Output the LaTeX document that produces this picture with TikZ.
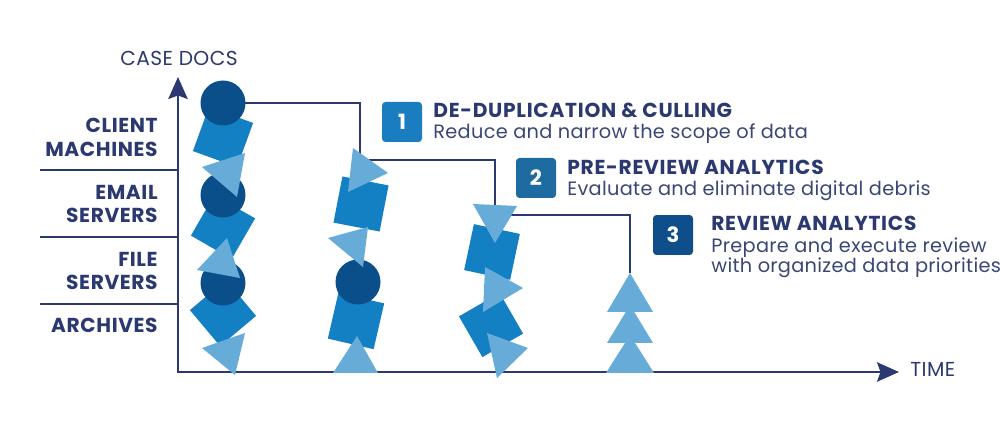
\documentclass[tikz,border=0pt]{standalone}
\usepackage{fontspec}
\setmainfont{Poppins}
\usetikzlibrary{arrows.meta}
\definecolor{navy}{HTML}{2B3970}
\definecolor{subtxt}{HTML}{3A4775}
\definecolor{circol}{HTML}{0B4F8A}
\definecolor{sqcol}{HTML}{1380C4}
\definecolor{tricol}{HTML}{67ACD9}
\definecolor{boxa}{HTML}{1A7DC0}
\definecolor{boxb}{HTML}{1D6BA0}
\definecolor{boxc}{HTML}{0E4F8B}
\tikzset{
  axisline/.style={draw=navy, line width=1.4pt},
  sepline/.style={draw=navy, line width=1.1pt},
  stepline/.style={draw=navy, line width=1.1pt},
  circshape/.style={circle, fill=circol, minimum size=0.9cm, inner sep=0pt},
  sqshape/.style={rectangle, fill=sqcol, minimum size=0.94cm, inner sep=0pt},
  trishape/.style={fill=tricol},
  leftlab/.style={anchor=base east, text=navy, font=\fontsize{11.5}{13}\selectfont\bfseries\addfontfeatures{LetterSpace=3}, inner sep=0pt},
  headlab/.style={anchor=base west, text=navy, font=\fontsize{11.5}{13}\selectfont\bfseries\addfontfeatures{LetterSpace=3.5}, inner sep=0pt},
  sublab/.style={anchor=base west, text=subtxt, font=\fontsize{11}{13}\selectfont\addfontfeatures{LetterSpace=1.6}, inner sep=0pt},
  axislab/.style={text=navy, font=\fontsize{11.5}{13}\selectfont\addfontfeatures{LetterSpace=2}, inner sep=0pt},
  numbox/.style={rounded corners=2pt, minimum size=0.8cm, inner sep=0pt, text=white, font=\fontsize{12}{14}\selectfont\bfseries},
}
\begin{document}
\begin{tikzpicture}[x=0.02cm, y=-0.02cm]
\fill[white] (0,0) rectangle (1000,438);
\useasboundingbox (0,0) rectangle (1000,438);

% axes
\coordinate (origin) at (178,372);
\coordinate (ytip) at (178,77);
\coordinate (xtip) at (899,372);
\draw[axisline, {Stealth[length=12.5pt,width=11pt,inset=2pt]}-{Stealth[length=12.5pt,width=11pt,inset=2pt]}] (ytip) -- (origin) -- (xtip);

\node[axislab, anchor=base] (casedocs) at (179,66) {CASE DOCS};
\node[axislab, anchor=base west] (time) at (910,377) {TIME};

% separators
\coordinate (s1a) at (40,170); \coordinate (s1b) at (178,170);
\coordinate (s2a) at (40,237); \coordinate (s2b) at (178,237);
\coordinate (s3a) at (40,304); \coordinate (s3b) at (178,304);
\draw[sepline] (s1a) -- (s1b);
\draw[sepline] (s2a) -- (s2b);
\draw[sepline] (s3a) -- (s3b);

% left labels
\node[leftlab] (l1a) at (158,133) {CLIENT};
\node[leftlab] (l1b) at (158,157) {MACHINES};
\node[leftlab] (l2a) at (158,200) {EMAIL};
\node[leftlab] (l2b) at (158,223) {SERVERS};
\node[leftlab] (l3a) at (158,267) {FILE};
\node[leftlab] (l3b) at (158,290) {SERVERS};
\node[leftlab] (l4a) at (158,333) {ARCHIVES};

% step line
\coordinate (start) at (223,103);
\coordinate (endtop) at (630,273);
\draw[stepline] (start) -- (360,103) -- (360,160) -- (495,160) -- (495,215) -- (630,215) -- (endtop);

% column 1
\node[sqshape, rotate=-20] (q11) at (223,137) {};
\node[sqshape, rotate=-30] (q12) at (223,227) {};
\node[sqshape, rotate=40] (q13) at (223,313) {};
\node[circshape] (c11) at (223,103) {};
\node[circshape] (c12) at (223,195) {};
\node[circshape] (c13) at (223,283) {};
\fill[trishape] (202,167) -- (245,153) -- (237,197) -- cycle;
\fill[trishape] (197,270) -- (227,238) -- (240,278) -- cycle;
\fill[trishape] (202,348) -- (245,333) -- (235,375) -- cycle;

% column 2
\node[sqshape, rotate=-11] (q21) at (361,204) {};
\node[sqshape, rotate=-13] (q22) at (356,321) {};
\node[circshape] (c21) at (358,282) {};
\fill[trishape] (353,148) -- (388,173) -- (348,192) -- cycle;
\fill[trishape] (328,238) -- (368,227) -- (363,267) -- cycle;
\fill[trishape] (333,373) -- (357,336) -- (378,373) -- cycle;

% column 3
\node[sqshape, rotate=-12] (q31) at (492,252) {};
\node[sqshape, rotate=30] (q32) at (491,325) {};
\fill[trishape] (473,204) -- (517,206) -- (495,243) -- cycle;
\fill[trishape] (485,267) -- (523,288) -- (483,312) -- cycle;
\fill[trishape] (487,333) -- (528,348) -- (497,378) -- cycle;

% column 4
\fill[trishape] (630,273) -- (653,312) -- (607,312) -- cycle;
\fill[trishape] (630,305) -- (653,343) -- (607,343) -- cycle;
\fill[trishape] (630,335) -- (654,373) -- (606,373) -- cycle;

% numbered steps
\node[numbox, fill=boxa] (b1) at (402,122) {1};
\node[headlab] (h1) at (433,118) {DE-DUPLICATION \& CULLING};
\node[sublab] (d1) at (433,139) {Reduce and narrow the scope of data};

\node[numbox, fill=boxb] (b2) at (536,178) {2};
\node[headlab] (h2) at (567,175) {PRE-REVIEW ANALYTICS};
\node[sublab] (d2) at (567,196) {Evaluate and eliminate digital debris};

\node[numbox, fill=boxc] (b3) at (673,235) {3};
\node[headlab] (h3) at (711,231) {REVIEW ANALYTICS};
\node[sublab] (d3a) at (711,253) {Prepare and execute review};
\node[sublab] (d3b) at (711,273) {with organized data priorities};
\end{tikzpicture}
\end{document}
